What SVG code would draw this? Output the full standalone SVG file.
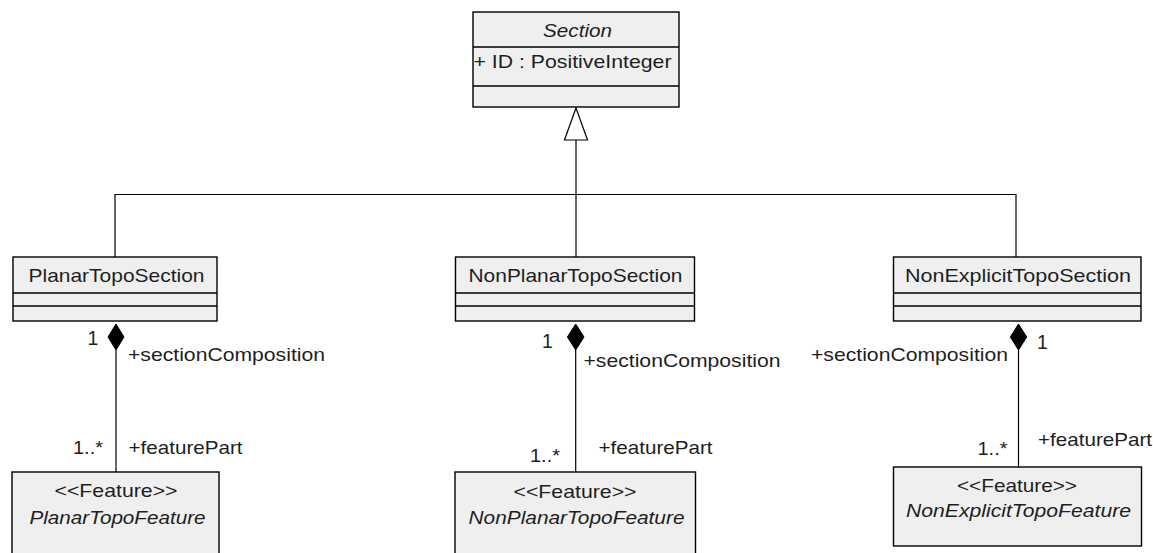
<svg xmlns="http://www.w3.org/2000/svg" width="1153" height="553" viewBox="0 0 1153 553">
<style>
.box{fill:#efefef;stroke:#000;stroke-width:1.4}
.sep{stroke:#000;stroke-width:1.4}
.t{font-family:"Liberation Sans",Arial,sans-serif;font-size:18.5px;fill:#1e1e1e}
.n{font-family:"Liberation Sans",Arial,sans-serif;font-size:19.5px;fill:#1e1e1e}
.i{font-style:italic}
.ln{fill:none;stroke:#000;stroke-width:1.2}
.dia{fill:#000;stroke:#000;stroke-width:1}
.tri{fill:#fff;stroke:#000;stroke-width:1.2}
</style>
<rect width="1153" height="553" fill="#fff"/>
<g id="connectors">
<line class="ln" x1="576" y1="140" x2="576" y2="257"/>
<polyline class="ln" points="115,257 115,194.5 1016,194.5 1016,257"/>
<polygon class="tri" points="576,108 564.5,140 587.5,140"/>
<line class="ln" x1="116" y1="350" x2="116" y2="472"/>
<polygon class="dia" points="116,324 124,337 116,350 108,337"/>
<line class="ln" x1="575.7" y1="350" x2="575.7" y2="472"/>
<polygon class="dia" points="575.7,324 584,337 575.7,350 567.4,337"/>
<line class="ln" x1="1018.5" y1="350" x2="1018.5" y2="467"/>
<polygon class="dia" points="1018.5,324 1026.7,337 1018.5,350 1010.3,337"/>
<text class="n" x="87.5" y="345">1</text>
<text class="t" x="128" y="361" textLength="197" lengthAdjust="spacingAndGlyphs">+sectionComposition</text>
<text class="t" x="73" y="454" textLength="30" lengthAdjust="spacingAndGlyphs">1..*</text>
<text class="t" x="128.5" y="454" textLength="114" lengthAdjust="spacingAndGlyphs">+featurePart</text>
<text class="n" x="542" y="348">1</text>
<text class="t" x="583.5" y="367" textLength="197" lengthAdjust="spacingAndGlyphs">+sectionComposition</text>
<text class="t" x="530" y="462" textLength="30" lengthAdjust="spacingAndGlyphs">1..*</text>
<text class="t" x="598.5" y="454" textLength="114" lengthAdjust="spacingAndGlyphs">+featurePart</text>
<text class="n" x="1037" y="349">1</text>
<text class="t" x="811" y="361" textLength="197" lengthAdjust="spacingAndGlyphs">+sectionComposition</text>
<text class="t" x="977.5" y="455" textLength="30" lengthAdjust="spacingAndGlyphs">1..*</text>
<text class="t" x="1038" y="446" textLength="114" lengthAdjust="spacingAndGlyphs">+featurePart</text>
</g>
<g id="Section">
<rect class="box" x="473" y="12" width="206" height="95"/>
<line class="sep" x1="473" y1="47" x2="679" y2="47"/>
<line class="sep" x1="473" y1="86" x2="679" y2="86"/>
<text class="t i" x="543" y="37" textLength="69" lengthAdjust="spacingAndGlyphs">Section</text>
<text class="t" x="473.5" y="68" textLength="198" lengthAdjust="spacingAndGlyphs">+ ID : PositiveInteger</text>
</g>
<g id="PlanarTopoSection">
<rect class="box" x="13" y="257" width="204" height="64"/>
<line class="sep" x1="13" y1="293" x2="217" y2="293"/>
<line class="sep" x1="13" y1="306" x2="217" y2="306"/>
<text class="t" x="28.5" y="282" textLength="176" lengthAdjust="spacingAndGlyphs">PlanarTopoSection</text>
</g>
<g id="NonPlanarTopoSection">
<rect class="box" x="455.5" y="257" width="239" height="64"/>
<line class="sep" x1="455.5" y1="293" x2="694.5" y2="293"/>
<line class="sep" x1="455.5" y1="306" x2="694.5" y2="306"/>
<text class="t" x="468.5" y="282" textLength="214" lengthAdjust="spacingAndGlyphs">NonPlanarTopoSection</text>
</g>
<g id="NonExplicitTopoSection">
<rect class="box" x="893.5" y="257" width="247.5" height="64"/>
<line class="sep" x1="893.5" y1="293" x2="1141" y2="293"/>
<line class="sep" x1="893.5" y1="306" x2="1141" y2="306"/>
<text class="t" x="905" y="282" textLength="226" lengthAdjust="spacingAndGlyphs">NonExplicitTopoSection</text>
</g>
<g id="PlanarTopoFeature">
<rect class="box" x="12" y="472" width="207" height="95"/>
<text class="t" x="54.5" y="497" textLength="123" lengthAdjust="spacingAndGlyphs">&lt;&lt;Feature&gt;&gt;</text>
<text class="t i" x="29.5" y="524" textLength="176" lengthAdjust="spacingAndGlyphs">PlanarTopoFeature</text>
</g>
<g id="NonPlanarTopoFeature">
<rect class="box" x="455" y="472" width="240.5" height="95"/>
<text class="t" x="513.5" y="498" textLength="123" lengthAdjust="spacingAndGlyphs">&lt;&lt;Feature&gt;&gt;</text>
<text class="t i" x="468.5" y="524" textLength="216" lengthAdjust="spacingAndGlyphs">NonPlanarTopoFeature</text>
</g>
<g id="NonExplicitTopoFeature">
<rect class="box" x="893.5" y="467" width="248" height="79"/>
<text class="t" x="957" y="492" textLength="120" lengthAdjust="spacingAndGlyphs">&lt;&lt;Feature&gt;&gt;</text>
<text class="t i" x="906" y="517" textLength="225" lengthAdjust="spacingAndGlyphs">NonExplicitTopoFeature</text>
</g>
</svg>
